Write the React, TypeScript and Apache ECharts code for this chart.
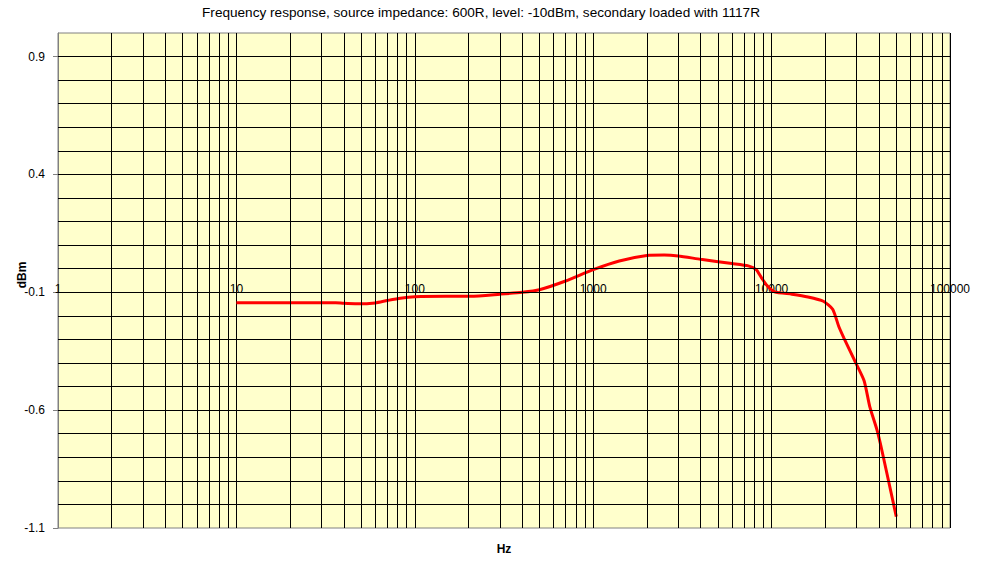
import React, { useEffect, useRef } from "react";
import * as echarts from "echarts";

const titleText =
  "Frequency response, source impedance: 600R, level: -10dBm, secondary loaded with 1117R";

// Measured frequency response (Hz, dBm)
const freqHz = [
  10, 20, 30, 36, 40, 48, 60, 70, 83, 100, 150, 206, 300, 400, 500, 700, 1000,
  1400, 2000, 2500, 3000, 4000, 6000, 7400, 8200, 8800, 9400, 10400, 13000,
  16000, 19500, 22000, 23800, 25400, 29000, 33000, 35500, 39000, 41500, 50000,
];
const levelDbm = [
  -0.144, -0.144, -0.144, -0.144, -0.147, -0.149, -0.145, -0.135, -0.125,
  -0.119, -0.117, -0.117, -0.108, -0.1, -0.089, -0.052, -0.004, 0.033, 0.056,
  0.058, 0.054, 0.04, 0.022, 0.012, -0.004, -0.04, -0.07, -0.098, -0.108,
  -0.12, -0.138, -0.172, -0.245, -0.293, -0.385, -0.475, -0.585, -0.685, -0.77,
  -1.052,
];

// Axis setup
const xMin = 1;
const xMax = 100000;
const yMin = -1.1;
const yMax = 1.0;
const yCross = -0.1; // the Hz axis crosses here
const yLabelValues = [-1.1, -0.6, -0.1, 0.4, 0.9];
const yGridValues = [
  -1.0, -0.9, -0.8, -0.7, -0.6, -0.5, -0.4, -0.3, -0.2, -0.1, 0.0, 0.1, 0.2,
  0.3, 0.4, 0.5, 0.6, 0.7, 0.8, 0.9,
];
const decadeStarts = [1, 10, 100, 1000, 10000];
const minorMultipliers = [2, 3, 4, 5, 6, 7, 8, 9];

const GRID = { left: 58, top: 33, right: 45, bottom: 34 };
const HEIGHT = 562;

export default function App() {
  const ref = useRef<HTMLDivElement>(null);

  useEffect(() => {
    document.body.style.margin = "0";
    if (!ref.current) return;
    const chart = echarts.init(ref.current, null, { renderer: "svg" });

    const data = freqHz.map((f, i) => [f, levelDbm[i]]);
    const vLines: any[] = [];
    decadeStarts.forEach((d) =>
      minorMultipliers.forEach((m) => vLines.push({ xAxis: d * m }))
    );
    const hLines = yGridValues.map((v) => ({ yAxis: v }));

    const gridH = HEIGHT - GRID.top - GRID.bottom;
    const xAxisOffset = -(gridH * (yCross - yMin)) / (yMax - yMin);

    const font = "'Liberation Sans', Arial, sans-serif";

    chart.setOption({
      animation: false,
      backgroundColor: "#ffffff",
      textStyle: { fontFamily: font },
      grid: {
        ...GRID,
        show: true,
        backgroundColor: "#FFFFCC",
        borderColor: "#808080",
        borderWidth: 1,
      },
      graphic: [
        {
          type: "text",
          x: 481,
          y: 12,
          style: {
            text: titleText,
            fontSize: 13.6,
            fontFamily: font,
            fill: "#000",
            textAlign: "center",
            textVerticalAlign: "middle",
          },
        },
        {
          type: "text",
          x: 504,
          y: 549,
          style: {
            text: "Hz",
            fontSize: 12,
            fontWeight: "bold",
            fontFamily: font,
            fill: "#000",
            textAlign: "center",
            textVerticalAlign: "middle",
          },
        },
        {
          type: "text",
          x: 22,
          y: 275,
          rotation: Math.PI / 2,
          style: {
            text: "dBm",
            fontSize: 12,
            fontWeight: "bold",
            fontFamily: font,
            fill: "#000",
            textAlign: "center",
            textVerticalAlign: "middle",
          },
        },
      ],
      xAxis: {
        type: "log",
        logBase: 10,
        min: xMin,
        max: xMax,
        position: "bottom",
        offset: xAxisOffset,
        axisLine: { show: false, onZero: false },
        axisTick: { show: false },
        splitLine: { show: true, lineStyle: { color: "#000", width: 1 } },
        axisLabel: {
          show: true,
          fontSize: 12,
          fontFamily: font,
          color: "#000",
          margin: -3,
          verticalAlign: "middle",
          showMinLabel: true,
          showMaxLabel: true,
          formatter: (v: number) => String(Math.round(v)),
        },
      },
      yAxis: {
        type: "value",
        min: yMin,
        max: yMax,
        axisLine: { show: true, onZero: false, lineStyle: { color: "#808080" } },
        axisTick: {
          show: true,
          length: 5,
          lineStyle: { color: "#808080" },
          customValues: yLabelValues,
        },
        splitLine: { show: false },
        axisLabel: {
          fontSize: 12,
          fontFamily: font,
          color: "#000",
          margin: 13,
          customValues: yLabelValues,
          formatter: (v: number) => v.toFixed(1),
        },
      },
      series: [
        {
          type: "line",
          data: [],
          z: 1,
          silent: true,
          markLine: {
            silent: true,
            symbol: "none",
            label: { show: false },
            lineStyle: { color: "#000", width: 1, type: "solid" },
            emphasis: { disabled: true },
            data: [...vLines, ...hLines],
          },
        },
        {
          type: "line",
          data,
          z: 3,
          symbol: "none",
          smooth: 0.2,
          lineStyle: { color: "#FF0000", width: 3 },
        },
      ],
    });

    return () => chart.dispose();
  }, []);

  return <div ref={ref} style={{ width: 995, height: 562 }} />;
}
